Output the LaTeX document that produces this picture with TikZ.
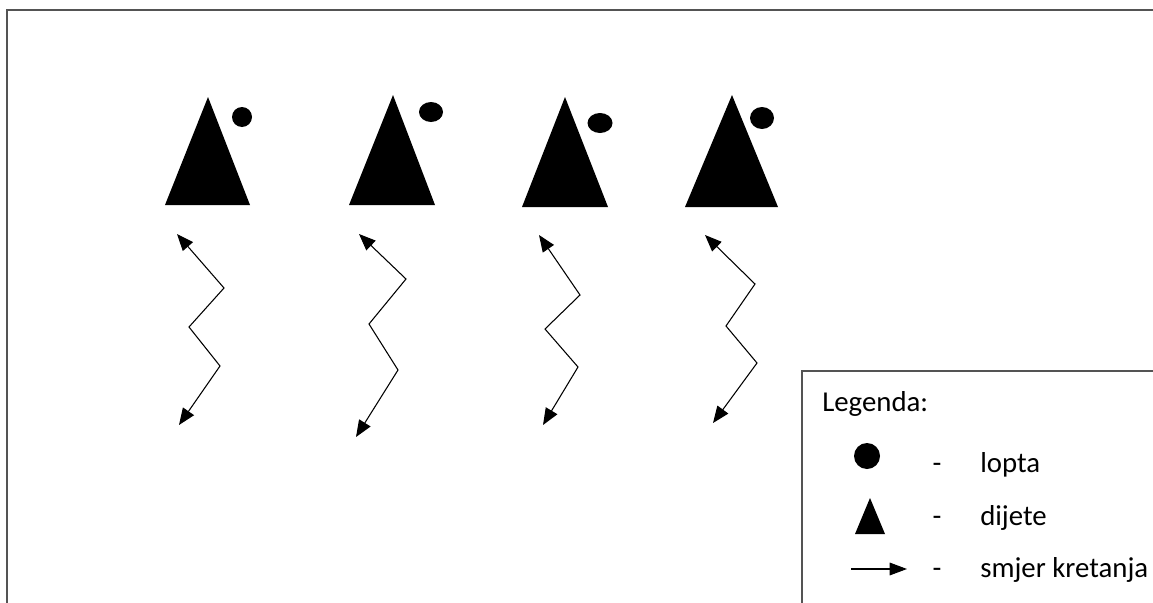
\documentclass[tikz,border=0pt]{standalone}
\usepackage{fontspec}
\setmainfont{Carlito}
\usepackage{tikz}
\usetikzlibrary{arrows.meta}

\begin{document}
\begin{tikzpicture}[x=0.75pt,y=-0.75pt,>={Triangle[length=12.5pt,width=10pt]},line join=miter,
  okvir/.style={draw=black!67,line width=1.5pt},
  legbox/.style={draw=black!67,line width=1pt},
  put/.style={line width=0.8pt,<->},
  txt/.style={anchor=base west,inner sep=0pt,font=\fontsize{21.6}{25}\selectfont}]
\clip (0,0) rectangle (1153,603);
\draw[okvir] (7,10) rectangle (1170,620);
\fill (165,205) -- (208,97) -- (250,205) -- cycle;
\fill (349,205) -- (393,95) -- (435,205) -- cycle;
\fill (522,207) -- (565,97) -- (608,207) -- cycle;
\fill (685,207) -- (732,95) -- (778,207) -- cycle;
\fill (242,117) circle [radius=10];
\fill (431,112) ellipse [x radius=12,y radius=10];
\fill (600,123) ellipse [x radius=12.5,y radius=10];
\fill (762,118) ellipse [x radius=12,y radius=11];
\draw[put] (177,234) -- (224,288) -- (189,327) -- (220,366) -- (179,425);
\draw[put] (359,234) -- (406,279) -- (369,324) -- (398,370) -- (356,437);
\draw[put] (539,235) -- (580,295) -- (545,329) -- (578,367) -- (543,425);
\draw[put] (705,235) -- (755,284) -- (726,326) -- (757,363) -- (713,423);
\draw[legbox] (802,371) rectangle (1180,630);
\node[txt] (legenda) at (822,411) {Legenda:};
\fill (867,456) circle [radius=13];
\fill (855,534) -- (870,498) -- (885,534) -- cycle;
\draw[put,-{Triangle[length=13pt,width=9.5pt]}] (851,569) -- (907,569);
\node[txt,anchor=base] (crta1) at (937,472) {-};
\node[txt,anchor=base] (crta2) at (937,525) {-};
\node[txt,anchor=base] (crta3) at (937,577) {-};
\node[txt] (lopta) at (980,472) {lopta};
\node[txt] (dijete) at (980,525) {dijete};
\node[txt] (smjer) at (980,577) {smjer kretanja};
\end{tikzpicture}
\end{document}
